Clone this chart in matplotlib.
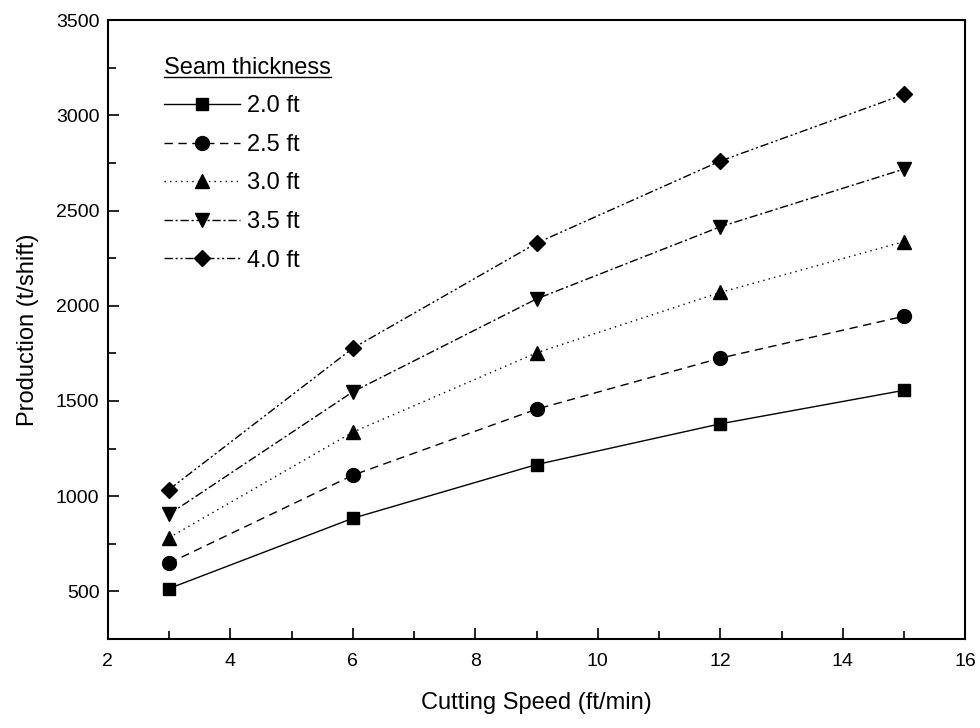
import numpy as np
import matplotlib
matplotlib.use('Agg')
import matplotlib.pyplot as plt
from matplotlib.ticker import MultipleLocator
from matplotlib.lines import Line2D

speed = [3, 6, 9, 12, 15]
seam_labels = ['2.0 ft', '2.5 ft', '3.0 ft', '3.5 ft', '4.0 ft']
prod_20 = [515, 884, 1166, 1380, 1556]
prod_25 = [648, 1110, 1457, 1725, 1945]
prod_30 = [782, 1336, 1753, 2070, 2337]
prod_35 = [905, 1548, 2036, 2415, 2718]
prod_40 = [1035, 1777, 2329, 2760, 3110]

narrow = ['Liberation Sans Narrow', 'Liberation Sans', 'DejaVu Sans']
plt.rcParams['font.family'] = ['Liberation Sans', 'DejaVu Sans']

fig = plt.figure(figsize=(9.8, 7.28), dpi=100)
ax = fig.add_axes([0.110, 0.1223, 0.875, 0.850])

styles = [
    ('-', 's', 9),
    ((0, (6, 4)), 'o', 10),
    ((0, (1, 3)), '^', 10),
    ((0, (6, 2, 1.5, 2)), 'v', 10),
    ((0, (6, 2, 1.5, 2, 1.5, 2)), 'D', 8),
]
series = [prod_20, prod_25, prod_30, prod_35, prod_40]
for vals, lab, (ls, mk, ms) in zip(series, seam_labels, styles):
    ax.plot(speed, vals, color='black', linestyle=ls, linewidth=1,
            marker=mk, markersize=ms, label=lab)

ax.set_xlim(2, 16)
ax.set_ylim(250, 3500)
ax.xaxis.set_major_locator(MultipleLocator(2))
ax.xaxis.set_minor_locator(MultipleLocator(1))
ax.yaxis.set_major_locator(MultipleLocator(500))
ax.yaxis.set_minor_locator(MultipleLocator(250))
ax.set_yticks([500, 1000, 1500, 2000, 2500, 3000, 3500])
ax.tick_params(which='both', direction='in', top=False, right=False, width=1.2)
ax.tick_params(which='major', length=8)
ax.tick_params(which='minor', length=6)
ax.tick_params(axis='y', labelsize=14, pad=6)
ax.tick_params(axis='x', labelsize=14, pad=10)
for lbl in ax.get_xticklabels():
    lbl.set_family(narrow)
for sp in ax.spines.values():
    sp.set_linewidth(1.5)

ax.set_xlabel('Cutting Speed (ft/min)', fontsize=17, family=narrow, labelpad=16)
ax.set_ylabel('Production (t/shift)', fontsize=17, family=narrow, labelpad=12)

leg = ax.legend(loc='upper left', bbox_to_anchor=(0.041, 0.975), frameon=False,
                prop={'family': narrow, 'size': 17}, title='Seam thickness',
                title_fontproperties={'family': narrow, 'size': 17},
                handlelength=3.2, handletextpad=0.3, labelspacing=0.7,
                alignment='left')

fig.canvas.draw()
bb = leg.get_title().get_window_extent(fig.canvas.get_renderer())
bb = bb.transformed(fig.transFigure.inverted())
fig.add_artist(Line2D([bb.x0, bb.x1], [bb.y0 + 0.002, bb.y0 + 0.002],
                      color='black', linewidth=1, transform=fig.transFigure))

fig.savefig('out.png', dpi=100)
